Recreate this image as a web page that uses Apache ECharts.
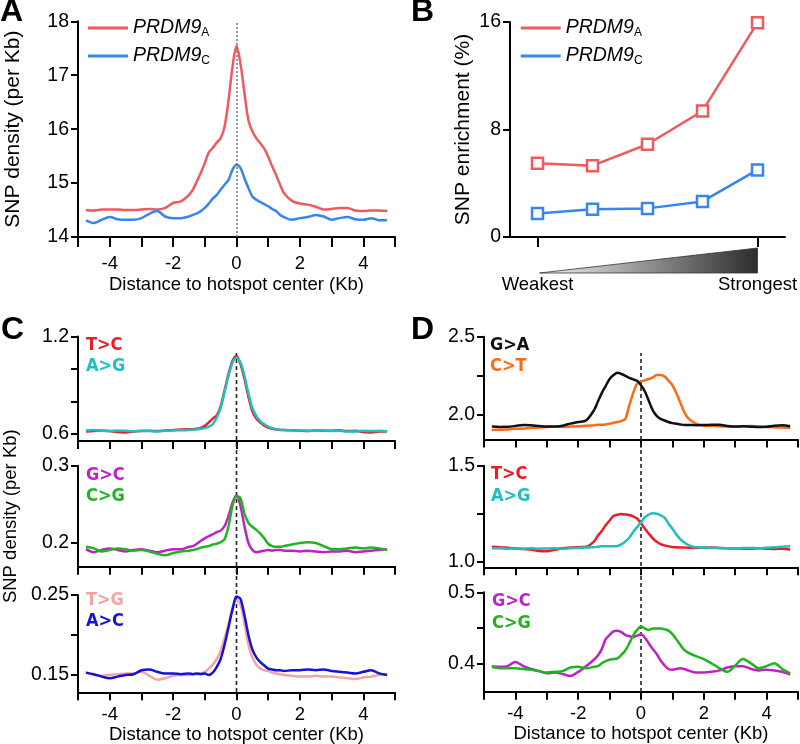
<!DOCTYPE html>
<html><head><meta charset="utf-8">
<script src="https://cdn.jsdelivr.net/npm/echarts@6/dist/echarts.min.js"></script>
<style>html,body{margin:0;padding:0;background:#fff}#c{width:800px;height:744px}</style>
</head><body><div id="c"></div>
<script>
// ---------- DATA ----------
const xKb = [-4.75,-4.5,-4.25,-4,-3.75,-3.5,-3.25,-3,-2.75,-2.5,-2.25,-2,-1.75,
  -1.5,-1.375,-1.25,-1.125,-1,-0.875,-0.75,-0.625,-0.5,-0.375,-0.25,-0.125,0,0.125,0.25,0.375,0.5,0.625,0.75,0.875,1,1.125,1.25,1.375,1.5,
  1.75,2,2.25,2.5,2.75,3,3.25,3.5,3.75,4,4.25,4.5,4.75];

// Panel A
const densityPRDM9A = [14.50,14.49,14.51,14.51,14.51,14.50,14.50,14.51,14.52,14.51,14.54,14.63,14.66,
  14.78,14.88,15.03,15.19,15.37,15.57,15.65,15.75,15.83,16.05,16.54,17.16,17.54,17.22,16.67,16.17,15.96,15.83,15.74,15.64,15.49,15.31,15.15,14.97,14.81,
  14.67,14.62,14.60,14.56,14.51,14.52,14.54,14.54,14.49,14.48,14.49,14.49,14.48];
const densityPRDM9C = [14.31,14.26,14.32,14.37,14.33,14.32,14.32,14.35,14.43,14.48,14.38,14.35,14.35,
  14.38,14.41,14.44,14.48,14.54,14.62,14.71,14.78,14.88,14.97,15.06,15.25,15.34,15.28,15.09,14.91,14.75,14.69,14.65,14.61,14.57,14.52,14.48,14.41,14.37,
  14.32,14.35,14.37,14.41,14.38,14.32,14.35,14.37,14.33,14.32,14.35,14.31,14.31];

// Panel B
const strengthBins = [1,2,3,4,5];
const strengthLabels = {1:'Weakest', 5:'Strongest'};
const enrichPRDM9A = [5.48,5.31,6.90,9.38,15.95];
const enrichPRDM9C = [1.74,2.06,2.13,2.65,4.99];

// Panel C
const c1_TC = [0.615,0.618,0.622,0.618,0.612,0.610,0.615,0.618,0.620,0.618,0.622,0.625,0.628,
  0.630,0.630,0.632,0.638,0.650,0.672,0.695,0.715,0.770,0.870,0.970,1.050,1.080,1.030,0.940,0.830,0.740,0.695,0.670,0.652,0.640,0.632,0.628,0.625,0.624,
  0.623,0.620,0.618,0.622,0.620,0.620,0.623,0.618,0.620,0.612,0.610,0.615,0.615];
const c1_AG = [0.622,0.625,0.620,0.618,0.622,0.620,0.617,0.620,0.618,0.615,0.620,0.622,0.623,
  0.625,0.627,0.628,0.632,0.636,0.645,0.660,0.700,0.760,0.860,0.960,1.040,1.070,1.040,0.960,0.850,0.760,0.710,0.680,0.660,0.645,0.636,0.630,0.627,0.625,
  0.622,0.622,0.620,0.620,0.622,0.618,0.620,0.615,0.616,0.620,0.618,0.620,0.617];
const c2_GC = [0.192,0.188,0.191,0.193,0.191,0.189,0.191,0.192,0.190,0.188,0.190,0.192,0.192,
  0.195,0.196,0.199,0.203,0.206,0.209,0.211,0.214,0.216,0.222,0.235,0.252,0.262,0.248,0.222,0.200,0.191,0.188,0.189,0.190,0.191,0.190,0.191,0.191,0.190,
  0.190,0.189,0.190,0.189,0.188,0.189,0.189,0.190,0.188,0.189,0.190,0.191,0.192];
const c2_CG = [0.195,0.193,0.189,0.191,0.193,0.192,0.190,0.191,0.189,0.186,0.184,0.187,0.189,
  0.190,0.191,0.192,0.194,0.195,0.196,0.198,0.199,0.201,0.205,0.222,0.248,0.260,0.258,0.238,0.226,0.221,0.217,0.212,0.206,0.199,0.196,0.195,0.195,0.196,
  0.198,0.200,0.201,0.200,0.196,0.192,0.192,0.193,0.194,0.193,0.194,0.193,0.191];
const c3_TG = [0.153,0.150,0.149,0.150,0.151,0.152,0.152,0.154,0.149,0.144,0.146,0.149,0.150,
  0.150,0.151,0.151,0.152,0.154,0.158,0.163,0.170,0.180,0.196,0.214,0.234,0.243,0.238,0.215,0.188,0.172,0.163,0.158,0.156,0.155,0.153,0.152,0.151,0.150,
  0.149,0.148,0.148,0.149,0.148,0.148,0.147,0.146,0.145,0.147,0.148,0.150,0.151];
const c3_AC = [0.153,0.151,0.148,0.146,0.148,0.150,0.151,0.156,0.157,0.154,0.152,0.152,0.151,
  0.152,0.151,0.152,0.151,0.152,0.150,0.153,0.160,0.170,0.188,0.210,0.232,0.248,0.245,0.225,0.200,0.182,0.172,0.166,0.162,0.158,0.157,0.156,0.156,0.155,
  0.156,0.156,0.157,0.156,0.157,0.155,0.154,0.153,0.152,0.154,0.156,0.152,0.150];

// Panel D
const d1_GA = [1.926,1.924,1.925,1.930,1.936,1.935,1.930,1.926,1.926,1.932,1.945,1.955,1.965,
  2.030,2.085,2.140,2.185,2.230,2.255,2.270,2.262,2.250,2.237,2.228,2.218,2.190,2.150,2.090,2.030,1.995,1.975,1.965,1.955,1.948,1.944,1.940,1.936,1.936,
  1.935,1.936,1.937,1.938,1.930,1.926,1.928,1.925,1.923,1.925,1.932,1.935,1.928];
const d1_CT = [1.904,1.906,1.908,1.912,1.914,1.918,1.920,1.924,1.926,1.924,1.926,1.928,1.932,
  1.935,1.937,1.938,1.940,1.945,1.950,1.955,1.962,1.975,2.060,2.140,2.200,2.215,2.222,2.230,2.240,2.255,2.255,2.245,2.220,2.190,2.140,2.080,2.020,1.980,
  1.945,1.932,1.932,1.928,1.926,1.925,1.928,1.930,1.926,1.924,1.922,1.920,1.918];
const d2_TC = [1.078,1.076,1.073,1.070,1.066,1.063,1.056,1.055,1.062,1.070,1.074,1.076,1.078,
  1.105,1.135,1.160,1.190,1.215,1.238,1.245,1.248,1.246,1.243,1.236,1.225,1.200,1.172,1.146,1.122,1.104,1.092,1.085,1.080,1.077,1.075,1.074,1.074,1.073,
  1.072,1.073,1.074,1.072,1.070,1.069,1.068,1.067,1.070,1.068,1.066,1.068,1.064];
const d2_AG = [1.070,1.070,1.068,1.069,1.068,1.070,1.068,1.069,1.070,1.068,1.070,1.072,1.074,
  1.076,1.078,1.080,1.080,1.081,1.080,1.082,1.090,1.105,1.125,1.155,1.180,1.205,1.232,1.245,1.252,1.250,1.242,1.230,1.198,1.172,1.142,1.118,1.100,1.088,
  1.075,1.074,1.072,1.071,1.070,1.070,1.071,1.072,1.070,1.073,1.075,1.078,1.080];
const d3_GC = [0.396,0.395,0.396,0.402,0.396,0.392,0.389,0.386,0.387,0.385,0.382,0.388,0.396,
  0.405,0.411,0.420,0.434,0.440,0.445,0.446,0.444,0.440,0.438,0.437,0.439,0.441,0.436,0.428,0.420,0.413,0.404,0.397,0.392,0.391,0.392,0.393,0.392,0.390,
  0.387,0.387,0.388,0.390,0.394,0.396,0.396,0.392,0.390,0.391,0.390,0.388,0.384];
const d3_CG = [0.395,0.393,0.393,0.393,0.392,0.391,0.389,0.387,0.388,0.389,0.394,0.395,0.393,
  0.395,0.396,0.400,0.403,0.405,0.406,0.407,0.412,0.418,0.428,0.439,0.447,0.452,0.449,0.447,0.449,0.449,0.449,0.448,0.446,0.441,0.434,0.426,0.419,0.415,
  0.410,0.406,0.400,0.393,0.388,0.397,0.406,0.400,0.393,0.396,0.400,0.392,0.386];

// tick values / labels
const distTicks = [-4,-2,0,2,4];
const aYTicks = [14,15,16,17,18];
const bYTicks = [0,8,16];
const c1Ticks = [0.6,0.8,1.0,1.2], c1Labels = [0.6,1.2];
const c2Ticks = [0.2,0.3], c2Labels = [0.2,0.3];
const c3Ticks = [0.15,0.2,0.25], c3Labels = [0.15,0.25];
const d1Ticks = [2.0,2.25,2.5], d1Labels = [2.0,2.5];
const d2Ticks = [1.0,1.25,1.5], d2Labels = [1.0,1.5];
const d3Ticks = [0.4,0.45,0.5], d3Labels = [0.4,0.5];
const centerLineX = [0,0], centerLineY = [0,1];

// ---------- STYLE ----------
const FONT = "'Liberation Sans', Arial, Helvetica, sans-serif";
const NARROW = "'Liberation Sans Narrow', 'Arial Narrow', 'DejaVu Sans Condensed', 'Liberation Sans', sans-serif";
const C = {redA:'#f15a5c', blueA:'#3786f0', red:'#ec1c24', teal:'#1fbfc0', mag:'#c21fc6', green:'#1fb51f',
  pink:'#f5a3a3', blue:'#1414d8', black:'#111111', orange:'#ff6a13'};
const pairs = (xs, ys) => xs.map((x,i)=>[x, ys[i]]);
const XNAME = 'Distance to hotspot center (Kb)';

const gridDefs = [
  {left:78, top:21.3, width:317, height:215.7},   // 0 A
  {left:510, top:22, width:275, height:215},      // 1 B
  {left:78, top:336.5, width:317, height:104.5},  // 2 C1
  {left:78, top:465.7, width:317, height:101},    // 3 C2
  {left:78, top:595, width:317, height:97.3},     // 4 C3
  {left:484, top:336.7, width:314, height:102.8}, // 5 D1
  {left:484, top:465.7, width:314, height:101.6}, // 6 D2
  {left:484, top:592.3, width:314, height:99.4},  // 7 D3
  {left:78, top:353, width:317, height:339},      // 8 C center line
  {left:484, top:353, width:314, height:339}      // 9 D center line
].map(g => Object.assign({containLabel:false, outerBoundsMode:'none', show:false}, g));

const axisLineS = {show:true, onZero:false, lineStyle:{color:'#000', width:2}};
function distX(gi, labels, name) {
  const isA = gi === 0;
  return {type:'value', gridIndex:gi, min:-5, max:5, interval:1,
    axisLine:axisLineS,
    axisTick:{show:true, length: isA?10:8, lineStyle:{color:'#000', width:2}},
    axisLabel:{show:labels, customValues:distTicks, formatter:v=>String(v), color:'#000', fontSize:18.5, fontFamily:FONT, margin: isA?17:13},
    splitLine:{show:false},
    name: name ? XNAME : '', nameLocation:'middle', nameGap: isA?38:33,
    nameTextStyle:{color:'#000', fontSize:18.5, fontFamily:FONT}};
}
function valY(gi, min, max, ticks, labels, digits, extra) {
  return Object.assign({type:'value', gridIndex:gi, min, max,
    axisLine:axisLineS,
    axisTick:{show:true, length:7, customValues:ticks, lineStyle:{color:'#000', width:2}},
    axisLabel:{show:true, customValues:labels, formatter:v=>v.toFixed(digits), color:'#000', fontSize:19.5, fontFamily:FONT, margin:9},
    splitLine:{show:false}}, extra || {});
}
function ln(gi, name, ys, color, extra) {
  return Object.assign({type:'line', name, xAxisIndex:gi, yAxisIndex:gi, data:pairs(xKb, ys),
    symbol:'none', showSymbol:false, smooth:0.3, z:3,
    lineStyle:{color, width:2.5}, itemStyle:{color}, silent:true, animation:false}, extra || {});
}
function mutLegend(left, top, items) {
  return {orient:'vertical', left, top, padding:0, itemWidth:0, itemHeight:18, itemGap:3.5, icon:'none', selectedMode:false,
    data: items.map(([n,c]) => ({name:n, textStyle:{color:c}})),
    textStyle:{fontFamily:NARROW, fontWeight:'bold', fontSize:18, lineHeight:18}};
}
const prdmLegendText = {color:'#000', fontFamily:FONT, fontSize:19,
  rich:{i:{fontStyle:'italic', fontSize:19.5, fontFamily:FONT, color:'#000', lineHeight:22},
        s:{fontSize:12, fontFamily:FONT, color:'#000', verticalAlign:'bottom', lineHeight:13}}};
function prdmLegend(left, top) {
  return {orient:'vertical', left, top, padding:0, itemWidth:40, itemHeight:3, itemGap:7, icon:'rect', selectedMode:false,
    data:['PRDM9A','PRDM9C'], formatter: n => '{i|PRDM9}{s|' + n.slice(-1) + '}', textStyle:prdmLegendText};
}
const centerLine = (gi) => ({type:'line', xAxisIndex:gi, yAxisIndex:gi, data:pairs(centerLineX, centerLineY),
  symbol:'none', z:1, silent:true, animation:false, lineStyle:{color:'#222', width:1.6, type:[4,3]}});

const letter = (id, t, x, y) => ({id, type:'text', x, y, style:{text:t, fill:'#000', fontSize:32, fontWeight:'bold', fontFamily:FONT, verticalAlign:'top', align:'left'}});

const option = {
  animation:false,
  backgroundColor:'#fff',
  grid: gridDefs,
  xAxis: [
    distX(0, true, true),
    {type:'value', gridIndex:1, min:0.5, max:5.5,
      axisLine:axisLineS,
      axisTick:{show:true, length:10, customValues:[strengthBins[0], strengthBins[4]], lineStyle:{color:'#000', width:2}},
      axisLabel:{show:true, customValues:[strengthBins[0], strengthBins[4]], formatter:v=>strengthLabels[v], color:'#000', fontSize:18.5, fontFamily:FONT, margin:38},
      splitLine:{show:false}},
    distX(2, false, false), distX(3, false, false), distX(4, true, true),
    distX(5, false, false), distX(6, false, false), distX(7, true, true),
    {type:'value', gridIndex:8, min:-5, max:5, show:false},
    {type:'value', gridIndex:9, min:-5, max:5, show:false}
  ],
  yAxis: [
    valY(0, 14, 18, aYTicks, aYTicks, 0, {name:'SNP density (per Kb)', nameLocation:'middle', nameGap:54, nameTextStyle:{color:'#000', fontSize:21, fontFamily:FONT}}),
    valY(1, 0, 16, bYTicks, bYTicks, 0, {name:'SNP enrichment (%)', nameLocation:'middle', nameGap:36, nameTextStyle:{color:'#000', fontSize:21, fontFamily:FONT}}),
    valY(2, 0.557, 1.2, c1Ticks, c1Labels, 1),
    valY(3, 0.1693, 0.3, c2Ticks, c2Labels, 1, {name:'SNP density (per Kb)', nameLocation:'middle', nameGap:58, nameTextStyle:{color:'#000', fontSize:18.5, fontFamily:FONT}}),
    valY(4, 0.1284, 0.25, c3Ticks, c3Labels, 2),
    valY(5, 1.8436, 2.5, d1Ticks, d1Labels, 1),
    valY(6, 0.971, 1.5, d2Ticks, d2Labels, 1),
    valY(7, 0.36, 0.5, d3Ticks, d3Labels, 1),
    {type:'value', gridIndex:8, min:0, max:1, show:false},
    {type:'value', gridIndex:9, min:0, max:1, show:false}
  ],
  legend: [
    prdmLegend(88, 18),
    prdmLegend(520.7, 18),
    mutLegend(81, 336, [['T>C', C.red], ['A>G', C.teal]]),
    mutLegend(81, 466, [['G>C', C.mag], ['C>G', C.green]]),
    mutLegend(81, 591, [['T>G', C.pink], ['A>C', C.blue]]),
    mutLegend(485, 336, [['G>A', C.black], ['C>T', C.orange]]),
    mutLegend(486, 465.5, [['T>C', C.red], ['A>G', C.teal]]),
    mutLegend(487, 592.5, [['G>C', C.mag], ['C>G', C.green]])
  ],
  series: [
    ln(0, 'PRDM9A', densityPRDM9A, C.redA, {markLine:{silent:true, symbol:'none', label:{show:false}, animation:false,
      lineStyle:{color:'#777', width:1.5, type:[2,2]}, data:[{xAxis:0}]}}),
    ln(0, 'PRDM9C', densityPRDM9C, C.blueA),
    {type:'line', name:'PRDM9A', xAxisIndex:1, yAxisIndex:1, data:pairs(strengthBins, enrichPRDM9A), symbol:'rect', symbolSize:11,
      lineStyle:{color:C.redA, width:2.5}, itemStyle:{color:'#fff', borderColor:C.redA, borderWidth:2.5}, silent:true, animation:false},
    {type:'line', name:'PRDM9C', xAxisIndex:1, yAxisIndex:1, data:pairs(strengthBins, enrichPRDM9C), symbol:'rect', symbolSize:11,
      lineStyle:{color:C.blueA, width:2.5}, itemStyle:{color:'#fff', borderColor:C.blueA, borderWidth:2.5}, silent:true, animation:false},
    ln(2, 'T>C', c1_TC, C.red), ln(2, 'A>G', c1_AG, C.teal),
    ln(3, 'G>C', c2_GC, C.mag), ln(3, 'C>G', c2_CG, C.green),
    ln(4, 'T>G', c3_TG, C.pink), ln(4, 'A>C', c3_AC, C.blue),
    ln(5, 'C>T', d1_CT, C.orange), ln(5, 'G>A', d1_GA, C.black),
    ln(6, 'T>C', d2_TC, C.red), ln(6, 'A>G', d2_AG, C.teal),
    ln(7, 'G>C', d3_GC, C.mag), ln(7, 'C>G', d3_CG, C.green),
    centerLine(8), centerLine(9)
  ],
  graphic: {elements: [letter('lA','A',0,-4), letter('lB','B',411,-4), letter('lC','C',1,314), letter('lD','D',411,314)]}
};

const chart = echarts.init(document.getElementById('c'), null, {renderer:'canvas'});
chart.setOption(option);

// gradient wedge under panel B's x axis, anchored on the axis scale
const p1 = chart.convertToPixel({xAxisIndex:1, yAxisIndex:1}, [strengthBins[0], 0]);
const p5 = chart.convertToPixel({xAxisIndex:1, yAxisIndex:1}, [strengthBins[4], 0]);
chart.setOption({graphic:{elements:[
  letter('lA','A',0,-4), letter('lB','B',411,-4), letter('lC','C',1,314), letter('lD','D',411,314),
  {id:'wedge', type:'polygon', silent:true,
   shape:{points:[[p1[0]+2, p1[1]+36], [p5[0], p1[1]+36], [p5[0], p1[1]+11]]},
   style:{fill:{type:'linear', x:0, y:0, x2:1, y2:0, colorStops:[{offset:0, color:'#f2f2f2'}, {offset:1, color:'#2c2c2c'}]},
          stroke:'#333', lineWidth:0.8}}
]}});
</script>
</body></html>
